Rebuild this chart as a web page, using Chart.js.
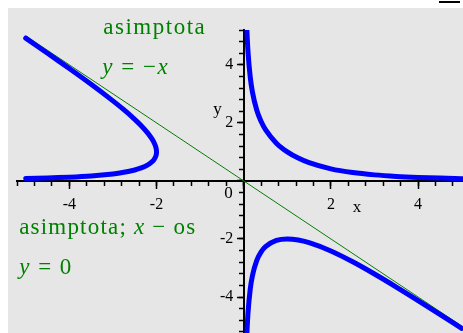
<!DOCTYPE html>
<html>
<head>
<meta charset="utf-8">
<script src="https://cdn.jsdelivr.net/npm/chart.js@4.4.1/dist/chart.umd.min.js"></script>
<style>
  html, body { margin: 0; padding: 0; background: #fff; }
  #frame { position: absolute; left: 8px; top: 8px; width: 455px; height: 325px; background: #e6e6e6; }
  #edge { position: absolute; left: 439px; top: 1px; width: 21px; height: 2px; background: #000; }
</style>
</head>
<body>
<div id="edge"></div>
<div id="frame"><canvas id="plot" width="455" height="325"></canvas></div>
<script>
// curve x*y*(x+y) = 2, three branches, plus the slanted asymptote y = -x
const leftBranchX = [-5, -4.5, -4, -3.5, -3, -2.75, -2.5, -2.35, -2.2, -2.1, -2.05, -2.02, -2.005, -2,
  -2.005, -2.02, -2.05, -2.1, -2.2, -2.35, -2.5, -2.75, -3, -3.5, -4, -4.5, -5];
const leftBranchY = [4.919, 4.399, 3.871, 3.328, 2.758, 2.454, 2.123, 1.903, 1.649, 1.437, 1.299, 1.183, 1.089, 1,
  0.916, 0.837, 0.751, 0.663, 0.552, 0.447, 0.377, 0.297, 0.242, 0.172, 0.129, 0.101, 0.081];

const upperRightX = [0.073, 0.08, 0.1, 0.15, 0.2, 0.3, 0.4, 0.5, 0.75, 1, 1.25, 1.5, 2, 2.5, 3, 3.5, 4, 4.5, 5];
const upperRightY = [5.2, 4.96, 4.422, 3.577, 3.064, 2.436, 2.045, 1.766, 1.301, 1, 0.786, 0.627, 0.414, 0.287, 0.208, 0.156, 0.121, 0.097, 0.079];

const lowerRightX = [0.075, 0.08, 0.1, 0.15, 0.2, 0.3, 0.4, 0.5, 0.75, 1, 1.25, 1.5, 2, 2.5, 3, 3.5, 4, 4.5, 5];
const lowerRightY = [-5.2, -5.04, -4.522, -3.727, -3.264, -2.736, -2.445, -2.266, -2.051, -2, -2.036, -2.127, -2.414, -2.787, -3.208, -3.656, -4.121, -4.597, -5.079];

const asymptoteX = [-5, 5];
const asymptoteY = [5, -5];

// labelled ticks (origin gets its own "0")
const xTickLabels = [-4, -2, 2, 4];
const yTickLabels = [-4, -2, 2, 4];

// green notes, each a list of [text, font style]
const noteTexts = [
  [['asimptota', 'normal']],
  [['y', 'italic'], [' = \u2212', 'normal'], ['x', 'italic']],
  [['asimptota;', 'normal'], [' x', 'italic'], [' \u2212 os', 'normal']],
  [['y', 'italic'], [' = 0', 'normal']]
];

function points(xs, ys) {
  return xs.map((x, i) => ({ x: x, y: ys[i] }));
}

const blue = '#0000ff';
const green = '#008000';
const serif = '"Liberation Serif", "Times New Roman", serif';

const textPlugin = {
  id: 'plotText',
  afterDraw(chart, args, opts) {
    const ctx = chart.ctx;
    const xs = chart.scales.x;
    const ys = chart.scales.y;
    ctx.save();

    // green annotations
    ctx.fillStyle = green;
    ctx.textAlign = 'left';
    ctx.textBaseline = 'alphabetic';
    noteTexts.forEach((parts, i) => {
      ctx.letterSpacing = opts.noteSpacing[i] + 'px';
      let px = xs.getPixelForValue(opts.noteAt[i][0]);
      const py = ys.getPixelForValue(opts.noteAt[i][1]);
      parts.forEach(([str, style]) => {
        ctx.font = style + ' ' + opts.noteSize + 'px ' + serif;
        ctx.fillText(str, px, py);
        px += ctx.measureText(str).width;
      });
    });
    ctx.letterSpacing = '0px';

    // axis names and the origin label
    ctx.fillStyle = '#000';
    ctx.font = opts.labelSize + 'px ' + serif;
    ctx.textAlign = 'center';
    ctx.textBaseline = 'middle';
    ctx.fillText('x', xs.getPixelForValue(opts.xNameAt[0]), ys.getPixelForValue(opts.xNameAt[1]));
    ctx.fillText('y', xs.getPixelForValue(opts.yNameAt[0]), ys.getPixelForValue(opts.yNameAt[1]));
    ctx.textAlign = 'right';
    ctx.fillText('0', xs.getPixelForValue(0) - 11, ys.getPixelForValue(0) + 13);
    ctx.restore();
  }
};

function noPadding(scale) {
  scale.paddingLeft = 0;
  scale.paddingRight = 0;
  scale.paddingTop = 0;
  scale.paddingBottom = 0;
}

// one centred axis; tickLen 0 hides the tick marks, labels null hides the text
function axis(dir, at, min, max, step, tickLen, labels, drawLine) {
  return {
    type: 'linear',
    axis: dir,
    position: at,
    min: min,
    max: max,
    afterFit: noPadding,
    border: { display: drawLine, color: '#000', width: 2 },
    grid: {
      display: tickLen > 0,
      drawOnChartArea: false,
      color: '#000',
      tickColor: '#000',
      tickLength: tickLen,
      tickWidth: 1.5
    },
    ticks: {
      display: !!labels,
      stepSize: step,
      maxTicksLimit: 100,
      autoSkip: false,
      includeBounds: false,
      maxRotation: 0,
      padding: 6,
      color: '#000',
      font: { family: serif, size: 16 },
      callback: v => (labels && labels.includes(v)) ? String(v) : ''
    }
  };
}

const xMin = -5.2, xMax = 5.03;
const yMin = -5.24, yMax = 5.2;

new Chart(document.getElementById('plot'), {
  type: 'scatter',
  data: {
    datasets: [
      { data: points(leftBranchX, leftBranchY), tension: 0.3 },
      { data: points(upperRightX, upperRightY), cubicInterpolationMode: 'monotone' },
      { data: points(lowerRightX, lowerRightY), cubicInterpolationMode: 'monotone' },
      { data: points(asymptoteX, asymptoteY), borderColor: green, borderWidth: 1, order: 1 }
    ].map(ds => Object.assign({
      showLine: true,
      borderColor: blue,
      borderWidth: 5,
      borderJoinStyle: 'round',
      borderCapStyle: 'round',
      pointRadius: 0,
      pointHoverRadius: 0,
      order: 0
    }, ds))
  },
  options: {
    responsive: false,
    animation: false,
    events: [],
    layout: { padding: { left: 9, top: 22, right: 0, bottom: 0 } },
    plugins: {
      legend: { display: false },
      tooltip: { enabled: false },
      plotText: {
        noteSize: 23,
        noteSpacing: [1.5, 1.5, 1.2, 1.5],
        labelSize: 17,
        noteAt: [[-3.22, 5.07], [-3.245, 3.69], [-5.15, -1.83], [-5.15, -3.21]],
        xNameAt: [2.6, -0.92],
        yNameAt: [-0.6, 2.45]
      }
    },
    scales: {
      // minor ticks every 0.4, major ticks every 2, and the y labels set left of the axis
      x: axis('x', { y: 0 }, xMin, xMax, 0.4, 4, null, true),
      x2: axis('x', { y: 0 }, xMin, xMax, 2, 8, xTickLabels, false),
      y: axis('y', { x: 0 }, yMin, yMax, 0.4, 4, null, true),
      y2: axis('y', { x: 0 }, yMin, yMax, 2, 7, null, false),
      y3: axis('y', { x: -0.24 }, yMin, yMax, 2, 0, yTickLabels, false)
    }
  },
  plugins: [textPlugin]
});
</script>
</body>
</html>
